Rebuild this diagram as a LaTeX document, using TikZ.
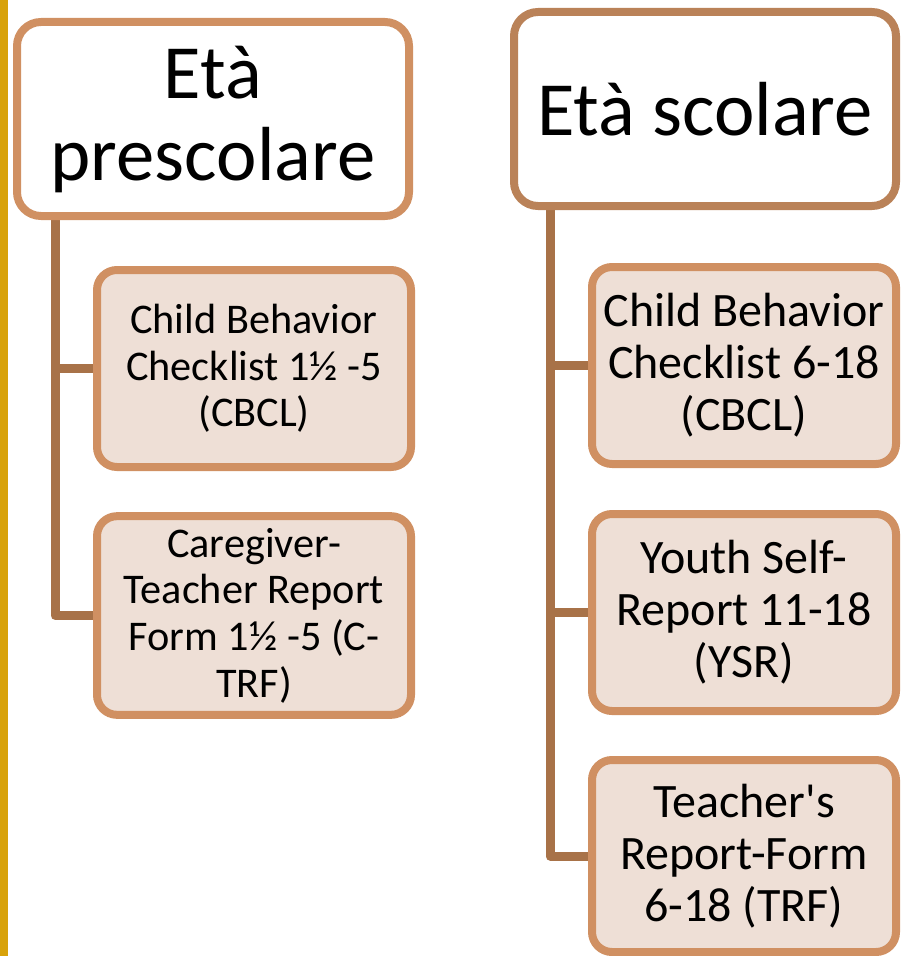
\documentclass[tikz,border=0pt]{standalone}
\usepackage{fontspec}
\setmainfont{Carlito}
\newfontfamily\straightquote{Carlito}
\usetikzlibrary{backgrounds}
\tikzset{every picture/.style={line width=0.75pt}}
\definecolor{boxline}{RGB}{208,144,98}
\definecolor{headline}{RGB}{186,130,88}
\definecolor{linkline}{RGB}{168,114,72}
\definecolor{boxfill}{RGB}{238,223,214}
\definecolor{slidegold}{RGB}{216,162,10}

\begin{document}
\begin{tikzpicture}[x=0.75pt,y=0.75pt,yscale=-1,xscale=1,
  head/.style={draw=boxline, line width=6pt, rounded corners=18pt, fill=white, align=center, inner sep=0pt, font=\fontsize{57.5}{61.5}\selectfont},
  item/.style={draw=boxline, line width=6pt, rounded corners=15pt, fill=boxfill, align=center, inner sep=0pt},
  link/.style={draw=linkline, line width=6.75pt, line join=round}]
%set diagram area: 900 x 956
\useasboundingbox (0,0) rectangle (900,956);
\clip (0,0) rectangle (900,956);

%Slide edge
\fill[slidegold] (0,0) rectangle (8,956);

%Headers
\node[head, minimum width=294pt, minimum height=145.5pt] (pre) at (213,119) {Età\\prescolare};
\node[head, draw=headline, minimum width=286.5pt, minimum height=145.5pt] (sco) at (705,109) {Età scolare};

%Left column
\node[item, minimum width=235.5pt, minimum height=147.75pt, font=\fontsize{31.7}{35}\selectfont] (cbclA) at (254,368.5) {Child Behavior\\Checklist 1½ -5\\(CBCL)};
\node[item, minimum width=235.5pt, minimum height=149pt, font=\fontsize{31.7}{35}\selectfont] (ctrf) at (254,615.5) {Caregiver-\\Teacher Report\\Form 1½ -5 (C-\\TRF)};

%Right column
\node[item, minimum width=228pt, minimum height=147.75pt, font=\fontsize{36}{39}\selectfont] (cbclB) at (744,365.5) {Child Behavior\\Checklist 6-18\\(CBCL)};
\node[item, minimum width=228pt, minimum height=147.75pt, font=\fontsize{36}{39}\selectfont] (ysr) at (744,612.5) {Youth Self-\\Report 11-18\\(YSR)};
\node[item, minimum width=228pt, minimum height=144pt, font=\fontsize{36}{39}\selectfont] (trf) at (744,856) {Teacher{\straightquote'}s\\Report-Form\\6-18 (TRF)};

%Trunks
\coordinate (trunkL) at (55,210);
\coordinate (trunkR) at (550,200);

\begin{pgfonlayer}{background}
\draw[link] (trunkL) |- (cbclA.west);
\draw[link] (trunkL) |- (ctrf.west);
\draw[link] (trunkR) |- (cbclB.west);
\draw[link] (trunkR) |- (ysr.west);
\draw[link] (trunkR) |- (trf.west);
\end{pgfonlayer}

\end{tikzpicture}
\end{document}
